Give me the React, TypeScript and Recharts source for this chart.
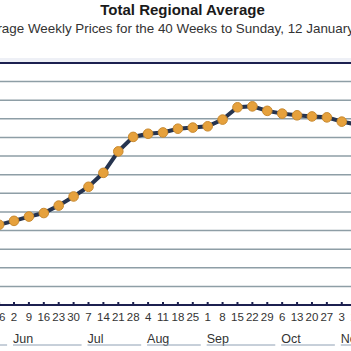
import { LineChart, Line, XAxis, YAxis, CartesianGrid, ReferenceLine } from 'recharts';

// weeks ending Sunday (first and last ones sit outside the visible window)
const weekDays = [19, 26, 2, 9, 16, 23, 30, 7, 14, 21, 28, 4, 11, 18, 25, 1, 8, 15, 22, 29, 6, 13, 20, 27, 3, 10];
const weekMonths = [
  'May', 'May',
  'Jun', 'Jun', 'Jun', 'Jun', 'Jun',
  'Jul', 'Jul', 'Jul', 'Jul',
  'Aug', 'Aug', 'Aug', 'Aug',
  'Sep', 'Sep', 'Sep', 'Sep', 'Sep',
  'Oct', 'Oct', 'Oct', 'Oct',
  'Nov', 'Nov',
];
const prices = [
  146.1, 146.31, 146.52, 146.75, 146.94, 147.34, 147.83, 148.35, 149.1, 150.25,
  151.03, 151.2, 151.27, 151.47, 151.53, 151.6, 151.96, 152.62, 152.67, 152.43,
  152.28, 152.19, 152.13, 152.08, 151.85, 151.7,
];
const yTicks = [142, 143, 144, 145, 146, 147, 148, 149, 150, 151, 152, 153, 154, 155];

const data = prices.map((p, i) => ({ x: i, price: p }));
const xTicks = data.map((d) => d.x);

const W = 351;
const H = 351;
const X_MIN = 1.06;
const X_MAX = 24.62;
const STEP = W / (X_MAX - X_MIN);

const NAVY = '#1c2050';

const WeekTick = ({ x, y, payload }: any) => {
  const i = payload.value;
  const month = weekMonths[i];
  const first = i === 0 || weekMonths[i - 1] !== month;
  let count = 0;
  for (let j = i; j < weekMonths.length && weekMonths[j] === month; j++) count++;
  // stretch the last visible group past the edge
  if (i + count >= weekMonths.length) count += 4;
  return (
    <g>
      <line x1={x} x2={x} y1={y - 3} y2={y} stroke={NAVY} strokeWidth={2} />
      <text x={x} y={y + 16} textAnchor="middle" fontSize={11.5} fill="#333">
        {weekDays[i]}
      </text>
      {first && weekDays[i] <= 7 && (
        <text x={x - 1} y={y + 38} textAnchor="start" fontSize={12.5} fill="#333">
          {month}
        </text>
      )}
      {first && (
        <line
          x1={x - 1}
          x2={x + (count - 1) * STEP + 8}
          y1={y + 40}
          y2={y + 40}
          stroke="#8fa0b4"
          strokeWidth={1}
        />
      )}
    </g>
  );
};

export default function App() {
  return (
    <div
      style={{
        position: 'absolute',
        left: 0,
        top: 0,
        width: W,
        height: H,
        overflow: 'hidden',
        background: '#fff',
        fontFamily: '"Liberation Sans", Arial, sans-serif',
      }}
    >
      <div style={{ position: 'absolute', left: 0, top: 1, width: 365, textAlign: 'center', fontSize: 15, fontWeight: 'bold', color: '#1a1a1a' }}>
        Total Regional Average
      </div>
      <div style={{ position: 'absolute', left: -39, top: 21, width: 440, textAlign: 'center', fontSize: 13.4, color: '#333', whiteSpace: 'nowrap' }}>
        Average Weekly Prices for the 40 Weeks to Sunday, 12 January 2014
      </div>
      <div style={{ position: 'absolute', left: 0, top: 58, width: W, height: 5, background: '#eef0f6' }} />
      <div style={{ position: 'absolute', left: 0, top: 0 }}>
        <LineChart width={W} height={H} data={data} margin={{ top: 63, right: 0, bottom: 0, left: 0 }}>
          <CartesianGrid vertical={false} stroke="#8e9ea6" strokeWidth={1.5} />
          <YAxis hide domain={[142, 155]} ticks={yTicks} interval={0} allowDataOverflow />
          <XAxis
            dataKey="x"
            type="number"
            domain={[X_MIN, X_MAX]}
            allowDataOverflow
            ticks={xTicks}
            interval={0}
            height={46}
            tickSize={0}
            tickMargin={0}
            tickLine={false}
            axisLine={{ stroke: NAVY, strokeWidth: 2 }}
            tick={<WeekTick />}
          />
          <ReferenceLine y={155} stroke={NAVY} strokeWidth={2} />
          <Line
            dataKey="price"
            stroke="#26344f"
            strokeWidth={4}
            dot={{ r: 4.8, fill: '#e6a13c', stroke: '#c98a30', strokeWidth: 1 }}
            isAnimationActive={false}
          />
        </LineChart>
      </div>
    </div>
  );
}
